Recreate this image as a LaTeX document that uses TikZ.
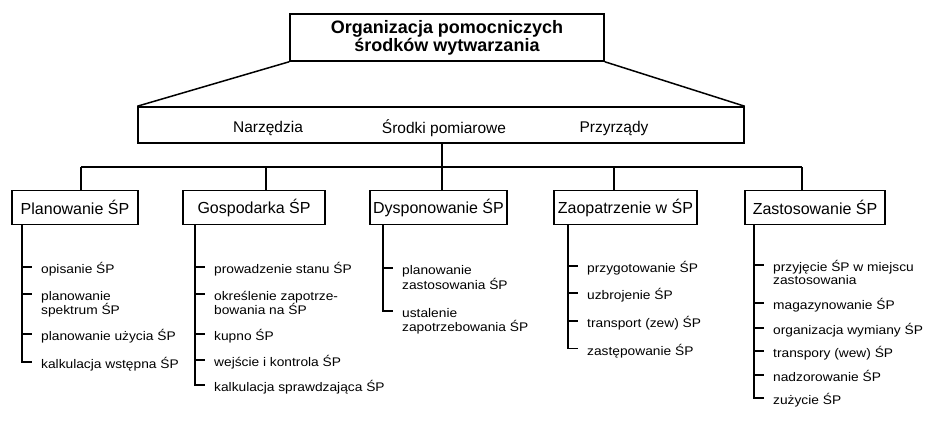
\documentclass[tikz,border=0pt]{standalone}
\usepackage{fontspec}
\setmainfont{Liberation Sans}
\newfontfamily\itemfont[FakeStretch=1.1]{Liberation Sans}
\begin{document}
\begin{tikzpicture}[x=1pt,y=-1pt,
  boxline/.style={draw,line width=1.5pt,inner sep=0pt},
  titlebox/.style={boxline,minimum width=314pt,minimum height=47pt,align=center,
    font=\fontsize{18}{15.5}\selectfont\bfseries},
  catbox/.style={boxline,minimum height=34pt,font=\fontsize{16}{18}\selectfont},
  band/.style={inner sep=0pt,font=\fontsize{15.5}{18}\selectfont},
  item/.style={anchor=base west,inner sep=0pt,align=left,
    font=\itemfont\fontsize{12.5}{14}\selectfont},
  link/.style={line width=1.3pt},
  % short stub from the spine to an entry; the value lifts it above the last baseline
  tick/.style={link,to path={([xshift=-19pt,yshift=#1]\tikztostart.base west) -- ++(10pt,0)}},
  tick/.default=6.5pt,
]
\useasboundingbox (0,0) rectangle (932,439);

% title and the band of resource kinds
\node[titlebox] (top) at (447,37.5) {Organizacja pomocniczych\\środków wytwarzania};
\node[boxline,minimum width=606pt,minimum height=36pt] (mid) at (441,125) {};
\node[band] (n1) at (268,128) {Narzędzia};
\node[band] (n2) at (444,128) {Środki pomiarowe};
\node[band] (n3) at (614,128) {Przyrządy};
\draw[boxline] (top.south west) -- (mid.north west);
\draw[boxline] (top.south east) -- (mid.north east);

% five functional areas
\node[catbox,minimum width=126pt] (c1) at (75,207.5) {Planowanie ŚP};
\node[catbox,minimum width=142pt] (c2) at (254,207.5) {Gospodarka ŚP};
\node[catbox,minimum width=137pt] (c3) at (438.5,207.5) {Dysponowanie ŚP};
\node[catbox,minimum width=143pt] (c4) at (625.5,207.5) {Zaopatrzenie w ŚP};
\node[catbox,minimum width=140pt] (c5) at (815,207.5) {Zastosowanie ŚP};

% distribution bus
\coordinate (j1) at (81,167);
\coordinate (j2) at (266,167);
\coordinate (j3) at (442,167);
\coordinate (j4) at (614,167);
\coordinate (j5) at (802,167);
\draw[link] (mid.south -| j3) -- (j3);
\draw[link] (j1) -- (j5);
\foreach \k in {1,...,5} \draw[link] (j\k) -- (j\k |- c\k.north);

% spines of the task lists
\coordinate (s1) at (22,0);
\coordinate (s2) at (195,0);
\coordinate (s3) at (383,0);
\coordinate (s4) at (568,0);
\coordinate (s5) at (754,0);

% Planowanie
\node[item] (a1) at (41,273.5) {opisanie ŚP};
\node[item] (a2) at (41,314.5) {planowanie\\spektrum ŚP};
\node[item] (a3) at (41,340.5) {planowanie użycia ŚP};
\node[item] (a4) at (41,368.5) {kalkulacja wstępna ŚP};
\draw[link] (s1 |- c1.south) |- ([xshift=-9pt,yshift=6.5pt]a4.base west);
\draw[tick] (a1) to (a1);
\draw[tick=20.5pt] (a2) to (a2);
\draw[tick] (a3) to (a3);

% Gospodarka
\node[item] (b1) at (214,273.5) {prowadzenie stanu ŚP};
\node[item] (b2) at (214,314.5) {określenie zapotrze-\\bowania na ŚP};
\node[item] (b3) at (214,340.5) {kupno ŚP};
\node[item] (b4) at (214,366.5) {wejście i kontrola ŚP};
\node[item] (b5) at (214,391.5) {kalkulacja sprawdzająca ŚP};
\draw[link] (s2 |- c2.south) |- ([xshift=-9pt,yshift=6.5pt]b5.base west);
\draw[tick] (b1) to (b1);
\draw[tick=20.5pt] (b2) to (b2);
\draw[tick] (b3) to (b3);
\draw[tick] (b4) to (b4);

% Dysponowanie
\node[item,font=\itemfont\fontsize{12.5}{15}\selectfont] (d1) at (402,289.5) {planowanie\\zastosowania ŚP};
\node[item] (d2) at (402,331.5) {ustalenie\\zapotrzebowania ŚP};
\draw[link] (s3 |- c3.south) |- ([xshift=-9pt,yshift=20.5pt]d2.base west);
\draw[tick=21.5pt] (d1) to (d1);

% Zaopatrzenie
\node[item] (e1) at (587,272.5) {przygotowanie ŚP};
\node[item] (e2) at (587,299.5) {uzbrojenie ŚP};
\node[item] (e3) at (587,327.5) {transport (zew) ŚP};
\node[item] (e4) at (587,355) {zastępowanie ŚP};
\draw[link] (s4 |- c4.south) |- ([xshift=-9pt,yshift=6.5pt]e4.base west);
\foreach \n in {e1,e2,e3} \draw[tick] (\n) to (\n);

% Zastosowanie
\node[item,font=\itemfont\fontsize{12.5}{13}\selectfont] (f1) at (773,284.5) {przyjęcie ŚP w miejscu\\zastosowania};
\node[item] (f2) at (773,309.5) {magazynowanie ŚP};
\node[item] (f3) at (773,334.5) {organizacja wymiany ŚP};
\node[item] (f4) at (773,357.5) {transpory (wew) ŚP};
\node[item] (f5) at (773,381.5) {nadzorowanie ŚP};
\node[item] (f6) at (773,404.5) {zużycie ŚP};
\draw[link] (s5 |- c5.south) |- ([xshift=-9pt,yshift=6.5pt]f6.base west);
\draw[tick=19.5pt] (f1) to (f1);
\foreach \n in {f2,f3,f4,f5} \draw[tick] (\n) to (\n);
\end{tikzpicture}
\end{document}
